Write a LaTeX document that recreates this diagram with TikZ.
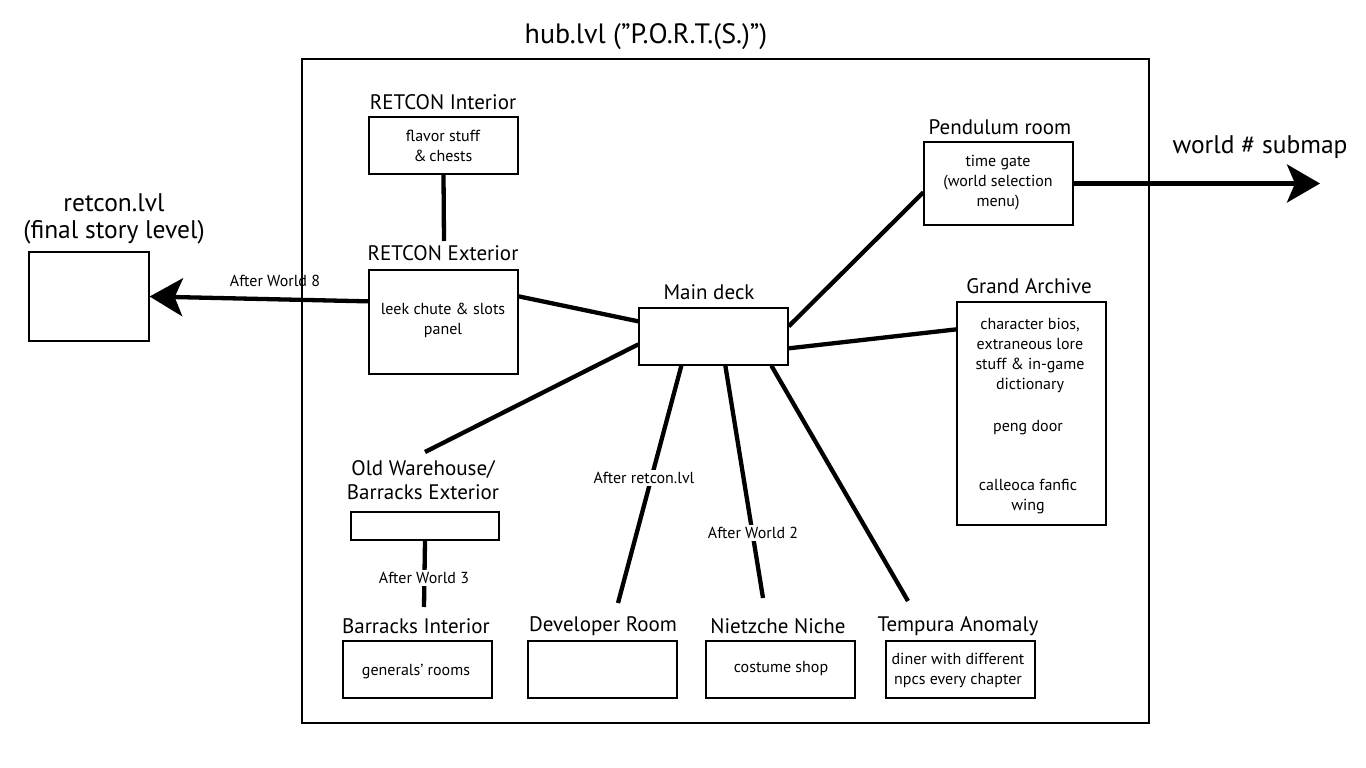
\documentclass[tikz,border=0pt]{standalone}
\usepackage{fontspec}
\setmainfont{PT Sans}
\usetikzlibrary{arrows.meta,calc}
\begin{document}
\begin{tikzpicture}[x=1pt,y=-1pt,
  box/.style={draw,line width=1.3pt,inner sep=0pt},
  ttl/.style={inner sep=1pt,font=\fontsize{21}{24}\selectfont,align=center},
  txt/.style={inner sep=1pt,font=\fontsize{16}{20}\selectfont,align=center},
  big/.style={inner sep=1pt,font=\fontsize{25.5}{27}\selectfont,align=center},
  lab/.style={inner sep=2pt,font=\fontsize{16}{20}\selectfont,fill=white},
  conn/.style={line width=4.3pt},
  bigarrow/.style={line width=4.3pt,-{Stealth[length=33pt,width=38pt,inset=8pt]}}]
\useasboundingbox (0,0) rectangle (1366,768);
\fill[white] (0,0) rectangle (1366,768);

% frame
\node[draw,line width=1.2pt,minimum width=847pt,minimum height=664pt,inner sep=0pt] (hub) at (725.5,391) {};
\node[inner sep=1pt,font=\fontsize{28}{30}\selectfont] (hubt) at (646,37) {hub.lvl (”P.O.R.T.(S.)”)};

% boxes
\node[box,minimum width=149pt,minimum height=57pt] (rint) at (443.5,145.5) {};
\node[box,minimum width=149pt,minimum height=104pt] (rext) at (443.5,322) {};
\node[box,minimum width=120pt,minimum height=89pt] (retbox) at (89,296.5) {};
\node[box,minimum width=149pt,minimum height=57pt] (md) at (713.5,336.5) {};
\node[box,minimum width=148pt,minimum height=28pt] (ow) at (425,526) {};
\node[box,minimum width=149pt,minimum height=57pt] (bi) at (417.5,669.5) {};
\node[box,minimum width=149pt,minimum height=57pt] (dev) at (602.5,669.5) {};
\node[box,minimum width=149pt,minimum height=57pt] (nn) at (780.5,669.5) {};
\node[box,minimum width=149pt,minimum height=57pt] (ta) at (960.5,669.5) {};
\node[box,minimum width=149pt,minimum height=83pt] (pend) at (998.5,183.5) {};
\node[box,minimum width=149pt,minimum height=223pt] (ga) at (1031.5,413.5) {};

% titles
\node[ttl] (rintt) at (443,102) {RETCON Interior};
\node[ttl] (rextt) at (443,253) {RETCON Exterior};
\node[big] (rett) at (114,219) {retcon.lvl\\(final story level)};
\node[ttl] (mdt) at (709,292) {Main deck};
\node[ttl] (owt) at (423,480) {Old Warehouse/\\Barracks Exterior};
\node[ttl] (bit) at (416,626) {Barracks Interior};
\node[ttl] (devt) at (603,626) {Developer Room};
\node[ttl] (nnt) at (778,626) {Nietzche Niche};
\node[ttl] (tat) at (958,626) {Tempura Anomaly};
\node[ttl] (pendt) at (1000,127) {Pendulum room};
\node[ttl] (gat) at (1029,286) {Grand Archive};
\node[big] (wst) at (1260,147) {world \# submap};

% box texts
\node[txt] at (443,146) {flavor stuff\\\&\,chests};
\node[txt] at (443,320) {leek chute \& slots\\panel};
\node[txt] at (998,183) {time gate\\(world selection\\menu)};
\node[txt] at (1030,355) {character bios,\\extraneous lore\\stuff \& in-game\\dictionary};
\node[txt] at (1028,428) {peng door};
\node[txt] at (1028,497) {calleoca fanfic\\wing};
\node[txt] at (416,672) {generals’ rooms};
\node[txt] at (781,668) {costume shop};
\node[txt] at (958,670) {diner with different\\npcs every chapter};

% free ends
\coordinate (c-rext) at (444,241);
\coordinate (c-ow) at (425,452);
\coordinate (c-bi) at (424,607);
\coordinate (c-dev) at (618,603);
\coordinate (c-nn) at (763,598);
\coordinate (c-ta) at (908,601);
\coordinate (c-ws) at (1320,183.5);

% connectors
\draw[conn] (rint.south) -- (c-rext);
\draw[conn] ($(rext.north east)+(0,27)$) -- ($(md.north west)+(0,14)$);
\draw[bigarrow] ($(rext.north west)+(0,32)$) -- (retbox.east);
\node[txt] (aw8) at (275,281) {After World 8};
\draw[conn] ($(md.north west)+(0,37)$) -- (c-ow);
\draw[conn] (ow.south) -- (c-bi);
\node[lab] (aw3) at (424,578) {After World 3};
\draw[conn] ($(md.south west)+(43,0)$) -- (c-dev);
\node[lab] (arl) at (644,478) {After retcon.lvl};
\draw[conn] ($(md.south west)+(87,0)$) -- (c-nn);
\node[lab] (aw2) at (753,533) {After World 2};
\draw[conn] ($(md.south west)+(133,0)$) -- (c-ta);
\draw[conn] ($(md.north east)+(0,19)$) -- ($(pend.north west)+(0,51)$);
\draw[conn] ($(md.north east)+(0,41)$) -- ($(ga.north west)+(0,28)$);
\draw[bigarrow] (pend.east) -- (c-ws);
\end{tikzpicture}
\end{document}
